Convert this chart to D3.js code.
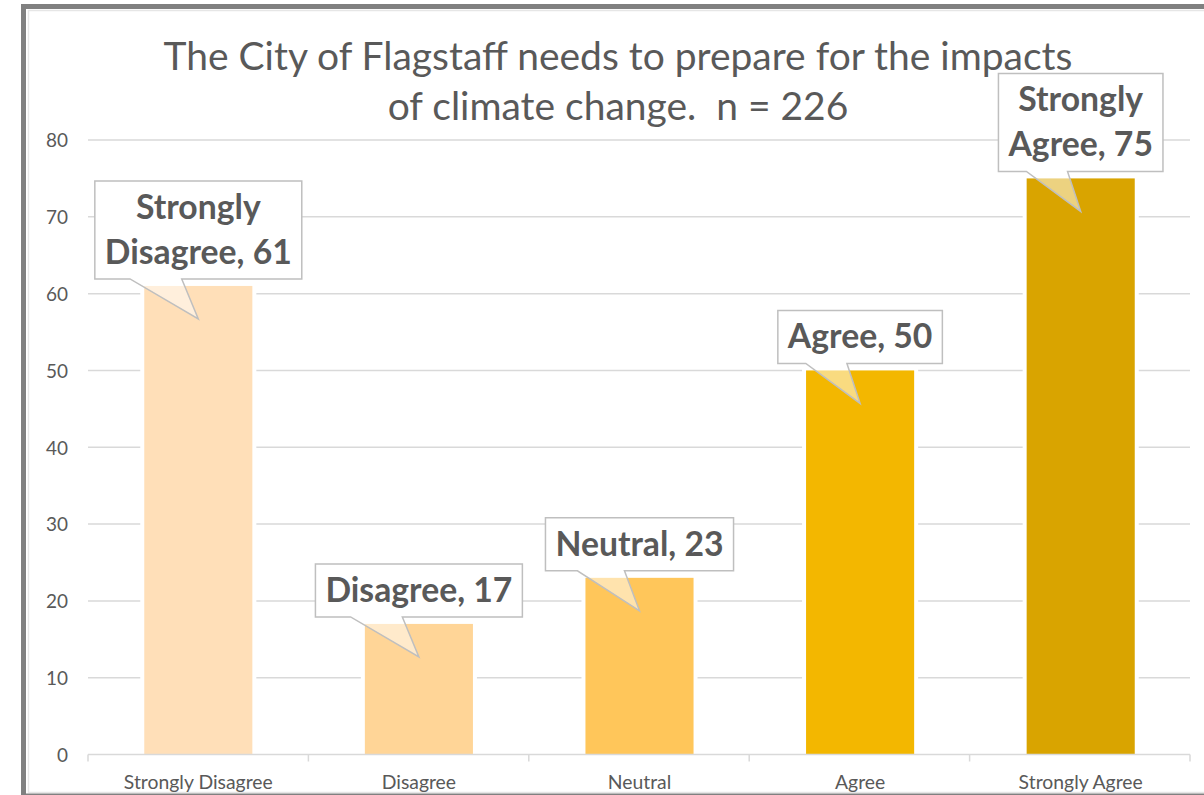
<!DOCTYPE html>
<html>
<head>
<meta charset="utf-8">
<script src="https://cdn.jsdelivr.net/npm/d3@7"></script>
<style>
  html, body { margin: 0; padding: 0; background: #fff; }
  svg { display: block; }
  text { white-space: pre; }
</style>
</head>
<body>
<svg id="chart" width="1204" height="795"></svg>
<script>
// ---- data ----
const categories = ["Strongly Disagree", "Disagree", "Neutral", "Agree", "Strongly Agree"];
const values = [61, 17, 23, 50, 75];
const labelLines = [
  ["Strongly", "Disagree, 61"],
  ["Disagree, 17"],
  ["Neutral, 23"],
  ["Agree, 50"],
  ["Strongly", "Agree, 75"]
];
const barColors = ["#FFDFB8", "#FFD597", "#FFC65A", "#F3B700", "#D9A400"];
const yTicks = [0, 10, 20, 30, 40, 50, 60, 70, 80];
const titleLines = ["The City of Flagstaff needs to prepare for the impacts", "of climate change.  n = 226"];

// ---- layout ----
const W = 1204, H = 795;
const plot = { left: 88, right: 1190, top: 140, bottom: 754.5 };
const FONT = "Lato, 'Open Sans', sans-serif";
const TXT = "#595959";
const GRID = "#d9d9d9";

const svg = d3.select("#chart");

// helper: calibrate font size so that a sample string reaches target width
function calibrate(sample, weight, targetWidth) {
  const t = svg.append("text").attr("font-family", FONT).attr("font-weight", weight)
    .attr("font-size", 100).text(sample);
  const w = t.node().getComputedTextLength();
  t.remove();
  return 100 * targetWidth / w;
}

// frame
svg.append("rect").attr("x", 0).attr("y", 0).attr("width", W).attr("height", H).attr("fill", "#fff");
svg.append("rect").attr("x", 28.5).attr("y", 10.5).attr("width", W).attr("height", 782)
  .attr("fill", "none").attr("stroke", "#e6e6e6").attr("stroke-width", 1.5);
svg.append("rect").attr("x", 23.5).attr("y", 6.5).attr("width", W + 10).attr("height", 789.5)
  .attr("fill", "none").attr("stroke", "#808080").attr("stroke-width", 5);

// scales
const x = d3.scaleBand().domain(categories).range([plot.left, plot.right + 1])
  .paddingInner(0.51).paddingOuter(0.255);
const y = d3.scaleLinear().domain([0, 80]).range([plot.bottom, plot.top]);

// gridlines
svg.append("g").selectAll("line").data(yTicks.filter(d => d > 0)).join("line")
  .attr("x1", plot.left).attr("x2", plot.right)
  .attr("y1", d => y(d)).attr("y2", d => y(d))
  .attr("stroke", GRID).attr("stroke-width", 1.5);

// y axis labels
const yAxis = d3.axisLeft(y).tickValues(yTicks).tickSize(0).tickPadding(0);
const gy = svg.append("g").attr("transform", `translate(68,0)`).call(yAxis);
gy.select(".domain").remove();
const yFont = calibrate("80", 400, 22);
gy.selectAll("text").attr("font-family", FONT).attr("font-size", yFont).attr("fill", TXT)
  .attr("dy", "0.36em");

// bars with white halo
const bars = svg.append("g");
categories.forEach((c, i) => {
  bars.append("rect")
    .attr("x", x(c) - 4).attr("width", x.bandwidth() + 8)
    .attr("y", y(values[i]) - 4).attr("height", plot.bottom - y(values[i]) + 4)
    .attr("fill", "#fff");
  bars.append("rect")
    .attr("x", x(c)).attr("width", x.bandwidth())
    .attr("y", y(values[i])).attr("height", plot.bottom - y(values[i]))
    .attr("fill", barColors[i]);
});

// x axis
const xAxis = d3.axisBottom(x).tickSize(0).tickPadding(0);
const gx = svg.append("g").attr("transform", `translate(0,${plot.bottom})`).call(xAxis);
gx.select(".domain").attr("stroke", GRID).attr("stroke-width", 1.5)
  .attr("d", `M${plot.left},0H${plot.right}`);
gx.selectAll(".tick line").remove();
const boundaries = d3.range(categories.length + 1).map(k => plot.left + k * (plot.right - plot.left) / categories.length);
gx.selectAll(".bound").data(boundaries).join("line").attr("class", "bound")
  .attr("x1", d => d).attr("x2", d => d).attr("y1", 0).attr("y2", 7)
  .attr("stroke", GRID).attr("stroke-width", 1.5);
const xFont = calibrate("Strongly Disagree", 400, 149);
gx.selectAll(".tick text").attr("font-family", FONT).attr("font-size", xFont)
  .attr("fill", TXT).attr("y", 34.5).attr("dy", 0);

// title
const tFont = calibrate(titleLines[0], 400, 909);
const title = svg.append("text").attr("font-family", FONT).attr("font-size", tFont)
  .attr("fill", TXT).attr("text-anchor", "middle");
titleLines.forEach((l, k) => {
  title.append("tspan").attr("x", 618).attr("y", 70 + k * 50).text(l);
});

// callouts
const cFont = calibrate("Disagree, 17", 700, 187);
const callouts = svg.append("g");
categories.forEach((c, i) => {
  const cx = x(c) + x.bandwidth() / 2;
  const top = y(values[i]);
  const lines = labelLines[i];
  const g = callouts.append("g");
  const txt = g.append("text").attr("font-family", FONT).attr("font-weight", 700)
    .attr("font-size", cFont).attr("fill", TXT).attr("text-anchor", "middle");
  const boxBottom = top - 7;
  const lastBase = boxBottom - 15;
  const firstBase = lastBase - (lines.length - 1) * 45;
  const boxTop = firstBase - 38;
  lines.forEach((l, k) => {
    txt.append("tspan").attr("x", cx).attr("y", firstBase + k * 45).text(l);
  });
  const tw = d3.max(txt.selectAll("tspan").nodes(), n => n.getComputedTextLength());
  const bw = tw + 20;
  const bl = cx - bw / 2, br = cx + bw / 2;
  const p1 = bl + 0.17 * bw, p2 = bl + 0.42 * bw;
  const tipX = cx, tipY = top + 33;
  // pointer (semi-transparent)
  g.insert("path", "text")
    .attr("d", `M${p1},${boxBottom}L${tipX},${tipY}L${p2},${boxBottom}Z`)
    .attr("fill", "#fff").attr("fill-opacity", 0.5);
  g.insert("rect", "text").attr("x", bl).attr("y", boxTop).attr("width", bw).attr("height", boxBottom - boxTop)
    .attr("fill", "#fff");
  g.insert("path", "text")
    .attr("d", `M${p1},${boxBottom}L${bl},${boxBottom}L${bl},${boxTop}L${br},${boxTop}L${br},${boxBottom}L${p2},${boxBottom}L${tipX},${tipY}Z`)
    .attr("fill", "none").attr("stroke", "#bfbfbf").attr("stroke-width", 1.5)
    .attr("stroke-linejoin", "miter");
});
</script>
</body>
</html>
